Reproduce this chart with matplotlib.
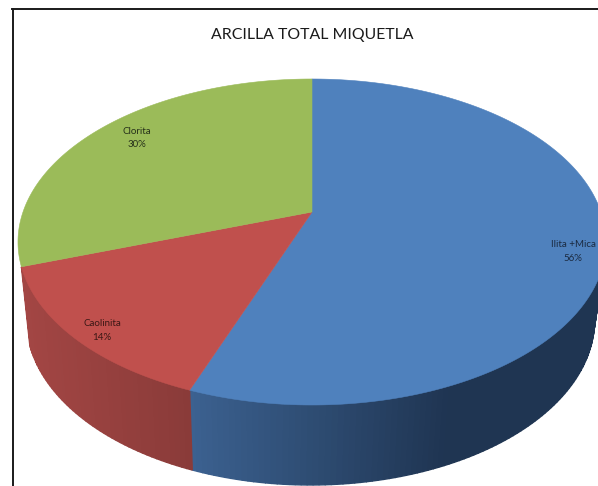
import numpy as np
import matplotlib
matplotlib.use('Agg')
import matplotlib.pyplot as plt
from matplotlib.colors import to_rgb

title = "ARCILLA TOTAL MIQUETLA"
categories = ["Ilita +Mica", "Caolinita", "Clorita"]
shares = [55.7, 14.0, 30.3]
top_colors = ["#4F81BD", "#C0504D", "#9BBB59"]
side_left = ["#3C6291", "#A34644", "#7F9A48"]
side_right = ["#1F3552", "#8A3B39", "#7F9A48"]
side_range = [(188, 450), (22, 190), (18, 22)]
label_xy = [(573, 251.5), (102, 330.5), (137, 138)]
label_colors = ["#1B2A40", "#3A1715", "#26301A"]

# pie geometry, in pixels of the picture
cx, cy = 312, 242
k, A, B, C = 0.184, 289, 163, 30
bottom_a, bottom_b, bottom_cy = 284, 165, 320


def project(theta):
    # circle seen in perspective, apex sits above the ellipse centre
    u, v = np.cos(theta), np.sin(theta)
    w = 1 + k * v
    return cx + A * u / w, cy - (B * v + C) / w


def project_bottom(x, y):
    # same point on the lower rim
    x2 = cx - 1.5 + (x - cx) * bottom_a / 294.0
    y2 = bottom_cy + (y - cy) * bottom_b / 163.0
    return x2, y2


fig = plt.figure(figsize=(5.98, 4.86), dpi=100)
ax = fig.add_axes([0, 0, 1, 1])
ax.set_xlim(0, 598)
ax.set_ylim(486, 0)
ax.axis('off')

ends = 90 - 3.6 * np.cumsum(shares)
starts = np.r_[90, ends[:-1]]
apex = (cx, cy - C)

# side wall first, the green slice has no visible wall
for start, end, c0, c1, (x_lo, x_hi) in zip(starts[:2], ends[:2], side_left, side_right, side_range):
    angles = np.radians(np.linspace(end, start, int(start - end) + 2))
    for a0, a1 in zip(angles[:-1], angles[1:]):
        # back of the rim is hidden by the top face
        if np.sin(a0) > -0.15:
            continue
        x0, y0 = project(a0)
        x1, y1 = project(a1)
        bx0, by0 = project_bottom(x0, y0)
        bx1, by1 = project_bottom(x1, y1)
        t = np.clip((0.5 * (x0 + x1) - x_lo) / float(x_hi - x_lo), 0, 1)
        col = (1 - t) * np.array(to_rgb(c0)) + t * np.array(to_rgb(c1))
        ax.fill([x0, x1, bx1, bx0], [y0, y1, by1, by0], color=col, lw=1.0, zorder=2)

# top face
for start, end, color in zip(starts, ends, top_colors):
    angles = np.radians(np.linspace(start, end, 200))
    xs, ys = project(angles)
    ax.fill(np.r_[apex[0], xs], np.r_[apex[1], ys], color=color, lw=0.4, zorder=3)

for name, share, (x, y), color in zip(categories, shares, label_xy, label_colors):
    ax.text(x, y, "{}\n{:.0f}%".format(name, share), ha='center', va='center',
            fontsize=7, family='Lato', color=color, linespacing=1.6, zorder=4)

ax.text(312, 35, title, ha='center', va='center', fontsize=11.4, family='Lato', color='#1a1a1a')

# picture frame
ax.plot([12.5, 12.5], [486, 9], color='#1a1a1a', lw=1.4, zorder=5)
ax.plot([12, 598], [9, 9], color='#1a1a1a', lw=1.4, zorder=5)

plt.savefig('out.png', dpi=100)
plt.close(fig)
